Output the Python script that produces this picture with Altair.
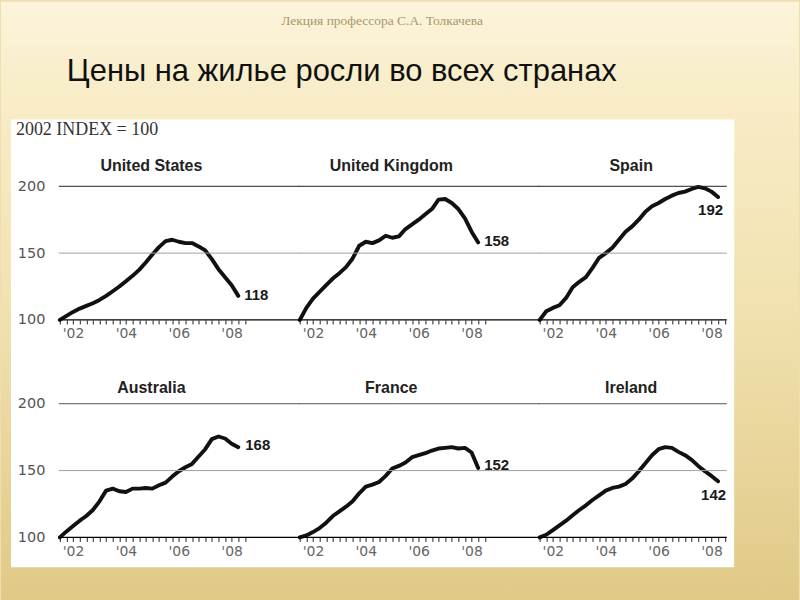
import json
import altair as alt
import pandas as pd

# ---------------- data ----------------
dates = [2002.0, 2002.25, 2002.5, 2002.75, 2003.0, 2003.25, 2003.5, 2003.75,
         2004.0, 2004.25, 2004.5, 2004.75, 2005.0, 2005.25, 2005.5, 2005.75,
         2006.0, 2006.25, 2006.5, 2006.75, 2007.0, 2007.25, 2007.5, 2007.75,
         2008.0, 2008.25, 2008.5, 2008.75]

us = [100, 103, 106, 108.5, 110.5, 112.5, 115, 118, 121.5, 125, 129, 133, 137.5, 143,
      149, 154.5, 159, 160, 158.5, 157.5, 157.5, 155, 152, 145.5, 138, 132, 126, 118]
uk = [100, 109, 116, 121, 126, 131, 135, 139.5, 146, 155.5, 158.5, 157.5, 159.5, 163,
      161.5, 162.5, 168, 171.5, 175, 179, 183, 190, 190.5, 187.5, 183, 176, 166, 158]
spain = [100, 106.5, 109, 111, 116.5, 124.5, 128.5, 132, 139, 146.5, 150, 154, 160, 166,
         170, 175, 181, 185, 187.5, 190.5, 193, 195, 196, 198, 199.5, 198.5, 196, 192]
australia = [100, 104.5, 108.5, 112.5, 116, 120.5, 127, 135, 136.5, 134.5, 134, 136.5, 136.5, 137,
             136.5, 139, 141, 145.5, 149.5, 152.5, 155, 160.5, 166, 173.5, 175.5, 174, 170, 167.5]
france = [100, 101.5, 104, 107, 111, 116, 119.5, 123, 127, 133, 138, 139.5, 141.5, 146,
          151.5, 153.5, 156, 160, 161.5, 163, 165, 166.5, 167, 167.5, 166.5, 167, 163.5, 152]
ireland = [100, 102, 105.5, 109, 112.5, 116.5, 120.5, 124, 128, 131.5, 135, 137, 138, 140,
           144, 149.5, 155.5, 161.5, 166, 167.5, 167, 164, 161.5, 158, 153.5, 149.5, 146, 142]

countries = ["United States", "United Kingdom", "Spain", "Australia", "France", "Ireland"]
series = [us, uk, spain, australia, france, ireland]
end_labels = ["118", "158", "192", "168", "152", "142"]

y_ticks = [100, 150, 200]
quarter_ticks = [2002.0, 2002.25, 2002.5, 2002.75, 2003.0, 2003.25, 2003.5, 2003.75,
                 2004.0, 2004.25, 2004.5, 2004.75, 2005.0, 2005.25, 2005.5, 2005.75,
                 2006.0, 2006.25, 2006.5, 2006.75, 2007.0, 2007.25, 2007.5, 2007.75,
                 2008.0, 2008.25, 2008.5, 2008.75, 2009.0]
tick_years = [2002.5, 2004.5, 2006.5, 2008.5]
tick_labels = ["'02", "'04", "'06", "'08"]

header_text = "Лекция профессора С.А. Толкачева"
title_text = "Цены на жилье росли во всех странах"
index_note = "2002 INDEX = 100"

# ---------------- styling ----------------
label_align = ["left", "left", "right", "left", "left", "right"]
label_dx = [6, 6, 5, 7, 6, 8]
label_dy = [-1, -1, 13, -2, -3, 14]
title_dy = [-15, -15, -15, -10.5, -10.5, -10.5]

PANEL_W = 185.5
PANEL_H = 134

label_expr = " : ".join(
    f"datum.value == {v} ? {json.dumps(l)}" for v, l in zip(tick_years, tick_labels)
) + " : ''"

x_scale = alt.Scale(domain=[2002, 2009], nice=False, zero=False)
y_scale = alt.Scale(domain=[100, 200], nice=False, zero=False)

x_axis = alt.Axis(values=quarter_ticks, labelExpr=label_expr, tickSize=4, tickColor="#222",
                  tickWidth=1, domain=False, grid=False, labelFont="DejaVu Sans",
                  labelFontSize=14, labelColor="#666", labelPadding=3, labelOverlap=False,
                  labelFlush=False, labelBound=False, title=None, zindex=1)
y_axis_left = alt.Axis(values=y_ticks, ticks=False, domain=False, grid=False,
                       labelFont="DejaVu Sans", labelFontSize=14.5, labelColor="#555",
                       labelPadding=15, title=None, zindex=1)

one = alt.Data(values=[{}])


def panel(i):
    col = i % 3
    row = i // 3
    x_end = 2011.06 if col < 2 else 2009.08
    y_ax = y_axis_left if col == 0 else None
    df = pd.DataFrame({"date": dates, "value": series[i]})

    line = alt.Chart(df).mark_line(
        color="#111", strokeWidth=3.9, strokeJoin="round", strokeCap="round"
    ).encode(
        x=alt.X("date:Q", scale=x_scale, axis=x_axis),
        y=alt.Y("value:Q", scale=y_scale, axis=y_ax),
    )

    grid_colors = ["#000", "#a0a0a0", "#222" if row == 0 else "#555"]
    grid_widths = [1.3, 1, 1]
    rules = []
    for lvl, c, w in zip(y_ticks, grid_colors, grid_widths):
        gdf = pd.DataFrame({"date": [2001.96], "x1": [x_end], "value": [lvl]})
        rules.append(
            alt.Chart(gdf).mark_rule(color=c, strokeWidth=w).encode(
                x=alt.X("date:Q", axis=x_axis), x2="x1:Q",
                y=alt.Y("value:Q", axis=y_ax)
            )
        )

    ldf = pd.DataFrame({"date": [dates[-1]], "value": [series[i][-1]], "lab": [end_labels[i]]})
    end_text = alt.Chart(ldf).mark_text(
        font="Liberation Sans", fontSize=15, fontWeight="bold", color="#1a1a1a",
        align=label_align[i], baseline="middle", dx=label_dx[i], dy=label_dy[i]
    ).encode(x=alt.X("date:Q", axis=x_axis), y=alt.Y("value:Q", axis=y_ax), text="lab:N")

    title = alt.Chart(one).mark_text(
        text=countries[i], font="Liberation Sans", fontSize=16, fontWeight="bold",
        color="#222", align="center", baseline="alphabetic"
    ).encode(x=alt.value(PANEL_W / 2 - 1), y=alt.value(title_dy[i]))

    layers = []
    if i == 0:
        bg = alt.Chart(one).mark_rect(
            color=alt.LinearGradient(
                gradient="linear", x1=0, y1=0, x2=0, y2=1,
                stops=[alt.GradientStop(offset=0, color="#fcf4dc"),
                       alt.GradientStop(offset=0.12, color="#f9eecb"),
                       alt.GradientStop(offset=0.5, color="#f2e2b0"),
                       alt.GradientStop(offset=1, color="#e0c987")],
            )
        ).encode(x=alt.value(-59), x2=alt.value(741), y=alt.value(-185), y2=alt.value(415))
        white = alt.Chart(one).mark_rect(color="white").encode(
            x=alt.value(-49), x2=alt.value(676), y=alt.value(-67), y2=alt.value(382)
        )
        header = alt.Chart(one).mark_text(
            text=header_text, font="Liberation Serif", fontSize=13.5, color="#a8976a",
            align="center", baseline="middle"
        ).encode(x=alt.value(323), y=alt.value(-166))
        big = alt.Chart(one).mark_text(
            text=title_text, font="Liberation Sans", fontSize=31, color="#111",
            align="left", baseline="alphabetic"
        ).encode(x=alt.value(7), y=alt.value(-106))
        note = alt.Chart(one).mark_text(
            text=index_note, font="Liberation Serif", fontSize=18, color="#333",
            align="left", baseline="middle"
        ).encode(x=alt.value(-44), y=alt.value(-56))
        layers += [bg, white, header, big, note]

    layers += [line] + rules + [end_text, title]
    return alt.layer(*layers).properties(width=PANEL_W, height=PANEL_H)


chart = alt.concat(
    *[panel(i) for i in range(6)],
    columns=3,
    spacing={"row": 84, "column": 54.5},
    bounds="flush",
).properties(
    padding=0, background="#efdfae"
).configure_view(stroke="transparent")

chart.save("out.html", embed_options={"renderer": "svg", "actions": False})
